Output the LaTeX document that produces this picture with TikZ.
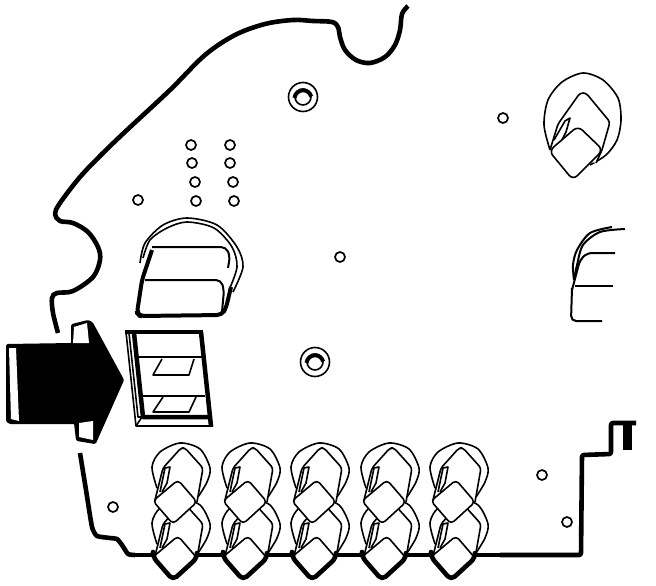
\documentclass[tikz,border=0pt]{standalone}
\tikzset{
  x=1pt,y=-1pt,
  edgeline/.style={line width=4.6pt,line join=round,line cap=butt},
  thinline/.style={line width=1.6pt,line join=round},
  midline/.style={line width=2pt,line join=round},
  hole/.style={line width=1.7pt,fill=white},
  knob/.pic={
    \draw[thinline,fill=white] plot[smooth] coordinates {(-18,-12)(-23,-33)(-15,-48)(5,-57)(25,-51)(35,-32)(32,-18)(23,-3)};
    \draw[thinline,fill=white,rounded corners=3pt] (-20,0)--(-12,-32)--(6,-52)--(10,-52)--(28,-32)--(22,2);
    \draw[thinline] (-15,-8)--(-10,-32)--(-5,-33)--(-8,-17)--(-13,-8);
    \draw[thinline,fill=white,rounded corners=4pt] (3,-20)--(-22,1)--(-2,24)--(22,2)--cycle;
  }
}
\begin{document}
\begin{tikzpicture}
\useasboundingbox (0,0) rectangle (656,586);
% outline
\draw[edgeline] plot[smooth,tension=0.55] coordinates {(408,6)(402,14)(400,30)(395,45)(385,57)(370,63)(356,60)(345,50)(340,37)(338,27)(332,22)(313,21)(293,20)(265,24)(235,35)(205,55)(170,90)(127,130)(103,153)(80,177)(60,203)(55,214)(60,221)(73,223)(88,232)(98,247)(100,260)(93,277)(73,291)(57,293)(52,298)(53,313)(58,333)};
\draw[edgeline] plot[smooth,tension=0.3] coordinates {(80,453)(86,490)(92,527)(97,536)(110,538)(117,539)(122,545)(128,554)(135,555)};
\draw[edgeline] (130,555)--(500,555);
\draw[edgeline,rounded corners=2pt] (500,555)--(581,555)--(582,455)--(611,454)--(611,423)--(636,423);
\fill (623,423) rectangle (632,450);
% knobs
\foreach \kx in {175,245,314,384,453}{
  \pic at (\kx,556) {knob};
  \draw[edgeline,rounded corners=5pt] (\kx-22,555)--(\kx-22,557)--(\kx-2,580)--(\kx+22,558)--(\kx+22,555);
  \pic at (\kx,500) {knob};
}
% top-right knob
\draw[thinline,fill=white] plot[smooth] coordinates {(550,150)(544,125)(548,100)(562,82)(583,73)(603,80)(618,98)(621,120)(617,140)(606,155)(590,165)};
\draw[thinline,fill=white,rounded corners=3pt] (550,150)--(558,124)--(580,93)--(586,93)--(610,122)--(602,150)--(596,163);
\draw[thinline] (554,140)--(565,121)--(570,118)--(566,132)--(561,142);
\draw[thinline,fill=white,rounded corners=6pt] (578,126)--(549,151)--(573,180)--(603,150)--cycle;
% right-hand part
\draw[midline] plot[smooth] coordinates {(612,227)(590,233)(577,250)(573,265)(574,280)};
\draw[midline] plot[smooth] coordinates {(625,229)(600,232)(583,245)(577,265)(574,280)};
\draw[midline,rounded corners=5pt] (615,253)--(587,253)--(580,260)--(572,290);
\draw[midline] (575,286)--(613,286);
\draw[midline,rounded corners=5pt] (572,288)--(571,321)--(602,321);
% capacitor
\draw[thinline] plot[smooth] coordinates {(140,263)(145,243)(163,225)(187,218)(217,225)(237,247)(243,267)(233,292)};
\draw[thinline] plot[smooth] coordinates {(143,258)(150,240)(167,228)(187,222)(214,228)(232,247)(237,267)(229,290)};
\draw[line width=4pt,line join=round,rounded corners=5pt] (152,250)--(142,280)--(137,313)--(140,316)--(222,315)--(226,308)--(231,287);
\draw[midline,rounded corners=5pt] (152,247)--(226,247)--(230,256)--(228,268);
\draw[midline,rounded corners=5pt] (145,280)--(221,280)--(224,290)--(222,312);
% plug
\draw[line width=2pt,fill=black,line join=round,rounded corners=1pt] (7,345)--(72,344)--(72,325)--(88,321)--(92,323)--(123,380)--(95,443)--(77,440)--(75,423)--(10,423)--(7,421)--cycle;
\fill[white] (9,348)--(16,348)--(19,421)--(11,419)--cycle;
\fill[white] (74,327)--(87,323)--(89,343)--(73,343)--cycle;
\fill[white] (79,423)--(93,421)--(93,440)--(79,437)--cycle;
% socket
\draw[line width=4.5pt] (125,332)--(203,332);
\draw[line width=4.5pt] (201,332)--(211,426);
\draw[line width=4.5pt,line join=round] (134,333)--(143,417)--(208,417);
\draw[thinline] (126,332)--(136,426)--(213,426);
\draw[thinline] (129,333)--(138,417)--(143,417);
\draw[thinline] (142,417)--(136,426);
\draw[thinline] (138,357)--(202,357);
\draw[thinline] (143,396)--(205,396);
\draw[thinline] (162,359)--(153,375)--(189,375)--(194,359);
\draw[thinline] (163,397)--(153,412)--(189,412)--(196,397);
% holes
\foreach \hx/\hy in {191/145,230/145,192/163,230/163,195/182,233/182,138/200,196/201,234/201,503/118,340/257,113/507,542/475,567/522}{
  \draw[hole] (\hx,\hy) circle[radius=5];
}
% screws
\foreach \sx/\sy in {303/97,315/362}{
  \draw[line width=1.6pt] (\sx,\sy) circle[radius=14.5];
  \draw[line width=1.6pt] (\sx,\sy) circle[radius=8];
  \draw[line width=4pt] (\sx-8.5,\sy+1) arc[start angle=175,end angle=15,x radius=8.5,y radius=-8.5];
}
\end{tikzpicture}
\end{document}
